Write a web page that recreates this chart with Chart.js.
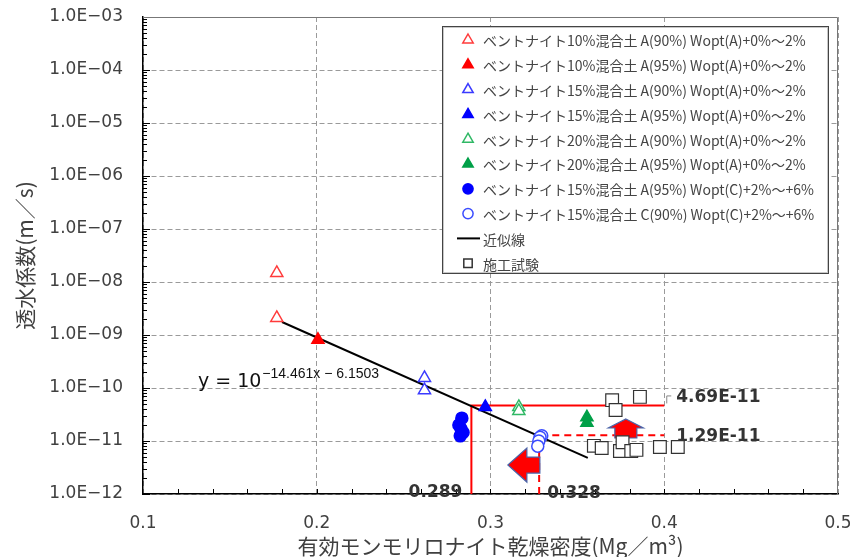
<!DOCTYPE html>
<html lang="ja">

<head>
	<meta charset="UTF-8">
	<title>透水係数</title>
	<style>
		body { margin: 0; background: #fff; }
	</style>
</head>

<body>
	<canvas id="myChart" width="850" height="557"></canvas>

	<script src="https://cdn.jsdelivr.net/npm/chart.js"></script>
	<script>
		// 目盛
		const xTickValues = [0.1, 0.2, 0.3, 0.4, 0.5];
		const xTickLabels = ['0.1', '0.2', '0.3', '0.4', '0.5'];
		const yTickExps = [-12, -11, -10, -9, -8, -7, -6, -5, -4, -3];
		const yTickLabels = ['1.0E−12', '1.0E−11', '1.0E−10', '1.0E−09', '1.0E−08',
			'1.0E−07', '1.0E−06', '1.0E−05', '1.0E−04', '1.0E−03'];

		// 凡例
		const seriesNames = [
			'ベントナイト10%混合土 A(90%) Wopt(A)+0%～2%',
			'ベントナイト10%混合土 A(95%) Wopt(A)+0%～2%',
			'ベントナイト15%混合土 A(90%) Wopt(A)+0%～2%',
			'ベントナイト15%混合土 A(95%) Wopt(A)+0%～2%',
			'ベントナイト20%混合土 A(90%) Wopt(A)+0%～2%',
			'ベントナイト20%混合土 A(95%) Wopt(A)+0%～2%',
			'ベントナイト15%混合土 A(95%) Wopt(C)+2%～+6%',
			'ベントナイト15%混合土 C(90%) Wopt(C)+2%～+6%',
			'近似線',
			'施工試験'
		];

		// x: 有効モンモリロナイト乾燥密度, y: 透水係数
		const b10a90X = [0.177, 0.177];
		const b10a90Y = [1.48e-8, 2.1e-9];
		const b10a95X = [0.2007];
		const b10a95Y = [8.1e-10];
		const b15a90X = [0.262, 0.262];
		const b15a90Y = [1.55e-10, 9.1e-11];
		const b15a95X = [0.297];
		const b15a95Y = [4.4e-11];
		const b20a90X = [0.3163, 0.3163];
		const b20a90Y = [4.4e-11, 3.7e-11];
		const b20a95X = [0.3555, 0.3555];
		const b20a95Y = [2.8e-11, 2.2e-11];
		const b15cA95X = [0.2835, 0.2818, 0.283, 0.2842, 0.2826];
		const b15cA95Y = [2.7e-11, 2.0e-11, 1.7e-11, 1.45e-11, 1.25e-11];
		const b15cC90X = [0.3295, 0.3285, 0.3278, 0.3272];
		const b15cC90Y = [1.26e-11, 1.18e-11, 1.0e-11, 8.0e-12];
		const fitX = [0.18, 0.356];
		const fitY = [1.76e-9, 4.8e-12];
		const fieldX = [0.370, 0.372, 0.386, 0.3595, 0.364, 0.3745, 0.376, 0.381, 0.384, 0.3975, 0.4078];
		const fieldY = [5.9e-11, 3.85e-11, 6.8e-11, 8.1e-12, 7.4e-12, 6.5e-12, 9.5e-12, 6.5e-12, 6.8e-12, 7.7e-12, 7.7e-12];

		// 読み取り線
		const markDensity = [0.289, 0.328];
		const markPerm = [4.69e-11, 1.29e-11];
		const markRight = 0.4;
		const densityLabels = ['0.289', '0.328'];
		const permLabels = ['4.69E-11', '1.29E-11'];

		const pts = (xs, ys) => xs.map((x, i) => ({ x: x, y: ys[i] }));

		const marker = (label, style, fill, stroke, r) => ({
			label: label,
			pointStyle: style,
			backgroundColor: fill,
			borderColor: stroke,
			pointBackgroundColor: fill,
			pointBorderColor: stroke,
			pointRadius: r,
			pointBorderWidth: 1.5,
			showLine: false,
			inLegend: true
		});

		const datasets = [
			Object.assign(marker(seriesNames[0], 'triangle', '#fff', '#ff3b3b', 7), { data: pts(b10a90X, b10a90Y) }),
			Object.assign(marker(seriesNames[1], 'triangle', '#ff0000', '#ff0000', 7), { data: pts(b10a95X, b10a95Y) }),
			Object.assign(marker(seriesNames[2], 'triangle', '#fff', '#3a3aff', 7), { data: pts(b15a90X, b15a90Y) }),
			Object.assign(marker(seriesNames[3], 'triangle', '#0000ff', '#0000ff', 7), { data: pts(b15a95X, b15a95Y) }),
			Object.assign(marker(seriesNames[4], 'triangle', '#fff', '#2fb865', 7), { data: pts(b20a90X, b20a90Y) }),
			Object.assign(marker(seriesNames[5], 'triangle', '#00a048', '#00a048', 7), { data: pts(b20a95X, b20a95Y) }),
			Object.assign(marker(seriesNames[6], 'circle', '#0000ff', '#0000ff', 6), { data: pts(b15cA95X, b15cA95Y) }),
			Object.assign(marker(seriesNames[7], 'circle', '#fff', '#3a4cff', 6), { data: pts(b15cC90X, b15cC90Y) }),
			{
				label: seriesNames[8], data: pts(fitX, fitY), showLine: true, pointRadius: 0,
				borderColor: '#000', borderWidth: 2, legendLine: true, inLegend: true
			},
			Object.assign(marker(seriesNames[9], 'rect', '#fff', '#333', 9), { data: pts(fieldX, fieldY), pointBorderWidth: 1.2 }),
			{
				label: 'solid', showLine: true, pointRadius: 0, borderColor: '#ff0000', borderWidth: 2,
				data: [{ x: markDensity[0], y: 1e-12 }, { x: markDensity[0], y: markPerm[0] }, { x: markRight, y: markPerm[0] }]
			},
			{
				label: 'dashed', showLine: true, pointRadius: 0, borderColor: '#ff0000', borderWidth: 2, borderDash: [7, 5],
				data: [{ x: markDensity[1], y: 1e-12 }, { x: markDensity[1], y: markPerm[1] }, { x: markRight, y: markPerm[1] }]
			}
		];

		function drawMark(ctx, ds, x, y, r) {
			ctx.save();
			ctx.fillStyle = ds.pointBackgroundColor;
			ctx.strokeStyle = ds.pointBorderColor;
			ctx.lineWidth = 1.5;
			ctx.beginPath();
			if (ds.pointStyle === 'triangle') {
				ctx.moveTo(x, y - r);
				ctx.lineTo(x + r * 0.866, y + r * 0.5);
				ctx.lineTo(x - r * 0.866, y + r * 0.5);
				ctx.closePath();
			} else if (ds.pointStyle === 'circle') {
				ctx.arc(x, y, r * 0.85, 0, Math.PI * 2);
			} else {
				ctx.rect(x - r * 0.7, y - r * 0.7, r * 1.4, r * 1.4);
			}
			ctx.fill();
			ctx.stroke();
			ctx.restore();
		}

		// 矢印
		const arrowPlugin = {
			id: 'arrows',
			afterDatasetDraw(chart, args) {
				if (args.index !== 10) return;
				const ctx = chart.ctx;
				const xs = chart.scales.x, ys = chart.scales.y;
				ctx.save();
				ctx.fillStyle = '#ff0000';
				ctx.strokeStyle = '#4a64a8';
				ctx.lineWidth = 1.2;
				// 左向き
				let tx = xs.getPixelForValue(0.31), ty = ys.getPixelForValue(3.52e-12);
				ctx.beginPath();
				ctx.moveTo(tx, ty);
				ctx.lineTo(tx + 19, ty - 17);
				ctx.lineTo(tx + 19, ty - 8);
				ctx.lineTo(tx + 32, ty - 8);
				ctx.lineTo(tx + 32, ty + 8);
				ctx.lineTo(tx + 19, ty + 8);
				ctx.lineTo(tx + 19, ty + 17);
				ctx.closePath();
				ctx.fill();
				ctx.stroke();
				// 上向き
				tx = xs.getPixelForValue(0.3779); ty = ys.getPixelForValue(2.6e-11);
				ctx.beginPath();
				ctx.moveTo(tx, ty);
				ctx.lineTo(tx + 17.5, ty + 9);
				ctx.lineTo(tx + 11, ty + 9);
				ctx.lineTo(tx + 11, ty + 19);
				ctx.lineTo(tx - 11, ty + 19);
				ctx.lineTo(tx - 11, ty + 9);
				ctx.lineTo(tx - 17.5, ty + 9);
				ctx.closePath();
				ctx.fill();
				ctx.stroke();
				ctx.restore();
			}
		};

		const extras = {
			id: 'extras',
			afterDraw(chart) {
				const ctx = chart.ctx;
				const xs = chart.scales.x, ys = chart.scales.y;
				const a = chart.chartArea;
				ctx.save();

				// 枠
				ctx.strokeStyle = '#777';
				ctx.lineWidth = 1;
				ctx.beginPath();
				ctx.moveTo(a.left, a.top + 0.5);
				ctx.lineTo(a.right - 0.5, a.top + 0.5);
				ctx.lineTo(a.right - 0.5, a.bottom);
				ctx.stroke();

				// 内向き目盛
				ctx.strokeStyle = '#000';
				ctx.beginPath();
				for (let k = 6; k < 50; k++) {
					const v = k / 100 * 2;
					if (v <= 0.1 || v >= 0.5) continue;
					const px = Math.round(xs.getPixelForValue(v)) + 0.5;
					ctx.moveTo(px, a.bottom);
					ctx.lineTo(px, a.bottom - 5);
				}
				yTickExps.forEach(e => {
					if (e === -3) return;
					for (let m = 1; m < 10; m++) {
						const py = Math.round(ys.getPixelForValue(m * Math.pow(10, e))) + 0.5;
						ctx.moveTo(a.left, py);
						ctx.lineTo(a.left + (m === 1 ? 7 : 4), py);
					}
				});
				ctx.stroke();

				// 近似式
				ctx.fillStyle = '#111';
				ctx.textBaseline = 'alphabetic';
				ctx.textAlign = 'left';
				ctx.font = '19px "DejaVu Sans"';
				const ex = xs.getPixelForValue(0.1316), ey = ys.getPixelForValue(1e-10) - 1;
				ctx.fillText('y = 10', ex, ey);
				const w0 = ctx.measureText('y = 10').width;
				ctx.font = '14px "Liberation Sans"';
				ctx.fillText('−14.461x − 6.1503', ex + w0 + 1, ey - 9);

				// 読み取り値
				ctx.fillStyle = '#333';
				ctx.font = 'bold 17px "DejaVu Sans"';
				ctx.textBaseline = 'middle';
				const rx = xs.getPixelForValue(markRight) + 12;
				ctx.fillText(permLabels[0], rx, ys.getPixelForValue(markPerm[0]) - 8);
				ctx.fillText(permLabels[1], rx, ys.getPixelForValue(markPerm[1]) + 1);
				ctx.textAlign = 'right';
				ctx.fillText(densityLabels[0], xs.getPixelForValue(markDensity[0]) - 9, a.bottom - 1);
				ctx.textAlign = 'left';
				ctx.fillText(densityLabels[1], xs.getPixelForValue(markDensity[1]) + 8, a.bottom);

				// 小さな引出線
				ctx.strokeStyle = '#888';
				ctx.lineWidth = 1;
				ctx.beginPath();
				ctx.moveTo(rx - 9.5, ys.getPixelForValue(markPerm[0]) - 2);
				ctx.lineTo(rx - 9.5, ys.getPixelForValue(markPerm[0]) - 9.5);
				ctx.lineTo(rx - 5, ys.getPixelForValue(markPerm[0]) - 9.5);
				ctx.stroke();

				// 凡例
				const lx = 442, ly = 26, lw = 386, lh = 247;
				ctx.fillStyle = '#fff';
				ctx.fillRect(lx, ly, lw, lh);
				ctx.strokeStyle = '#c8c8c8';
				ctx.lineWidth = 1;
				ctx.strokeRect(lx + 1.5, ly + 1.5, lw - 2, lh - 2);
				ctx.strokeStyle = '#444';
				ctx.strokeRect(lx + 0.5, ly + 0.5, lw, lh);
				ctx.font = '14px "Noto Sans CJK JP"';
				ctx.textAlign = 'left';
				ctx.textBaseline = 'middle';
				chart.data.datasets.filter(d => d.inLegend).forEach((d, i) => {
					const y = 40 + i * 24.8;
					if (d.legendLine) {
						ctx.strokeStyle = '#000';
						ctx.lineWidth = 2;
						ctx.beginPath();
						ctx.moveTo(457, y);
						ctx.lineTo(480, y);
						ctx.stroke();
					} else {
						drawMark(ctx, d, 468, y, 6);
					}
					ctx.fillStyle = '#444';
					ctx.fillText(d.label, 483, y + 1);
				});
				ctx.restore();
			}
		};

		Chart.defaults.font.family = '"DejaVu Sans", "Noto Sans CJK JP"';

		const config = {
			type: 'scatter',
			data: { datasets: datasets },
			plugins: [arrowPlugin, extras],
			options: {
				responsive: false,
				animation: false,
				devicePixelRatio: 1,
				layout: { padding: { top: 17, right: 12, left: 0, bottom: 0 } },
				plugins: { legend: { display: false }, tooltip: { enabled: false } },
				scales: {
					x: {
						type: 'linear', min: 0.1, max: 0.5,
						afterBuildTicks: s => { s.ticks = xTickValues.map(v => ({ value: v })); },
						afterFit: s => { s.height = 63; s.paddingLeft = 0; s.paddingRight = 0; },
						ticks: { callback: (v, i) => xTickLabels[i], color: '#404040', font: { size: 17 }, padding: 19, maxRotation: 0 },
						grid: { color: '#9a9a9a', lineWidth: 1, drawTicks: false },
						border: { display: true, color: '#000', width: 1.5, dash: [5, 3] },
						title: {
							display: true, text: '有効モンモリロナイト乾燥密度(Mg／m³)', color: '#404040',
							font: { family: '"Noto Sans CJK JP"', size: 21, lineHeight: 1.05 }, padding: { top: 0, bottom: 0 }
						}
					},
					y: {
						type: 'logarithmic', min: 1e-12, max: 1e-3,
						afterBuildTicks: s => { s.ticks = yTickExps.map(e => ({ value: Math.pow(10, e) })); },
						afterFit: s => { s.width = 143; s.paddingTop = 0; s.paddingBottom = 0; },
						ticks: { callback: (v, i) => yTickLabels[i], color: '#404040', font: { size: 17 }, padding: 20 },
						grid: { color: '#9a9a9a', lineWidth: 1, drawTicks: false },
						border: { display: true, color: '#000', width: 1.5, dash: [5, 3] },
						title: {
							display: true, text: '透水係数(m／s)', color: '#404040',
							font: { family: '"Noto Sans CJK JP"', size: 21, lineHeight: 1.2 }, padding: { top: 12, bottom: 0 }
						}
					}
				}
			}
		};

		const myChart = new Chart(document.getElementById('myChart'), config);
	</script>
</body>

</html>
